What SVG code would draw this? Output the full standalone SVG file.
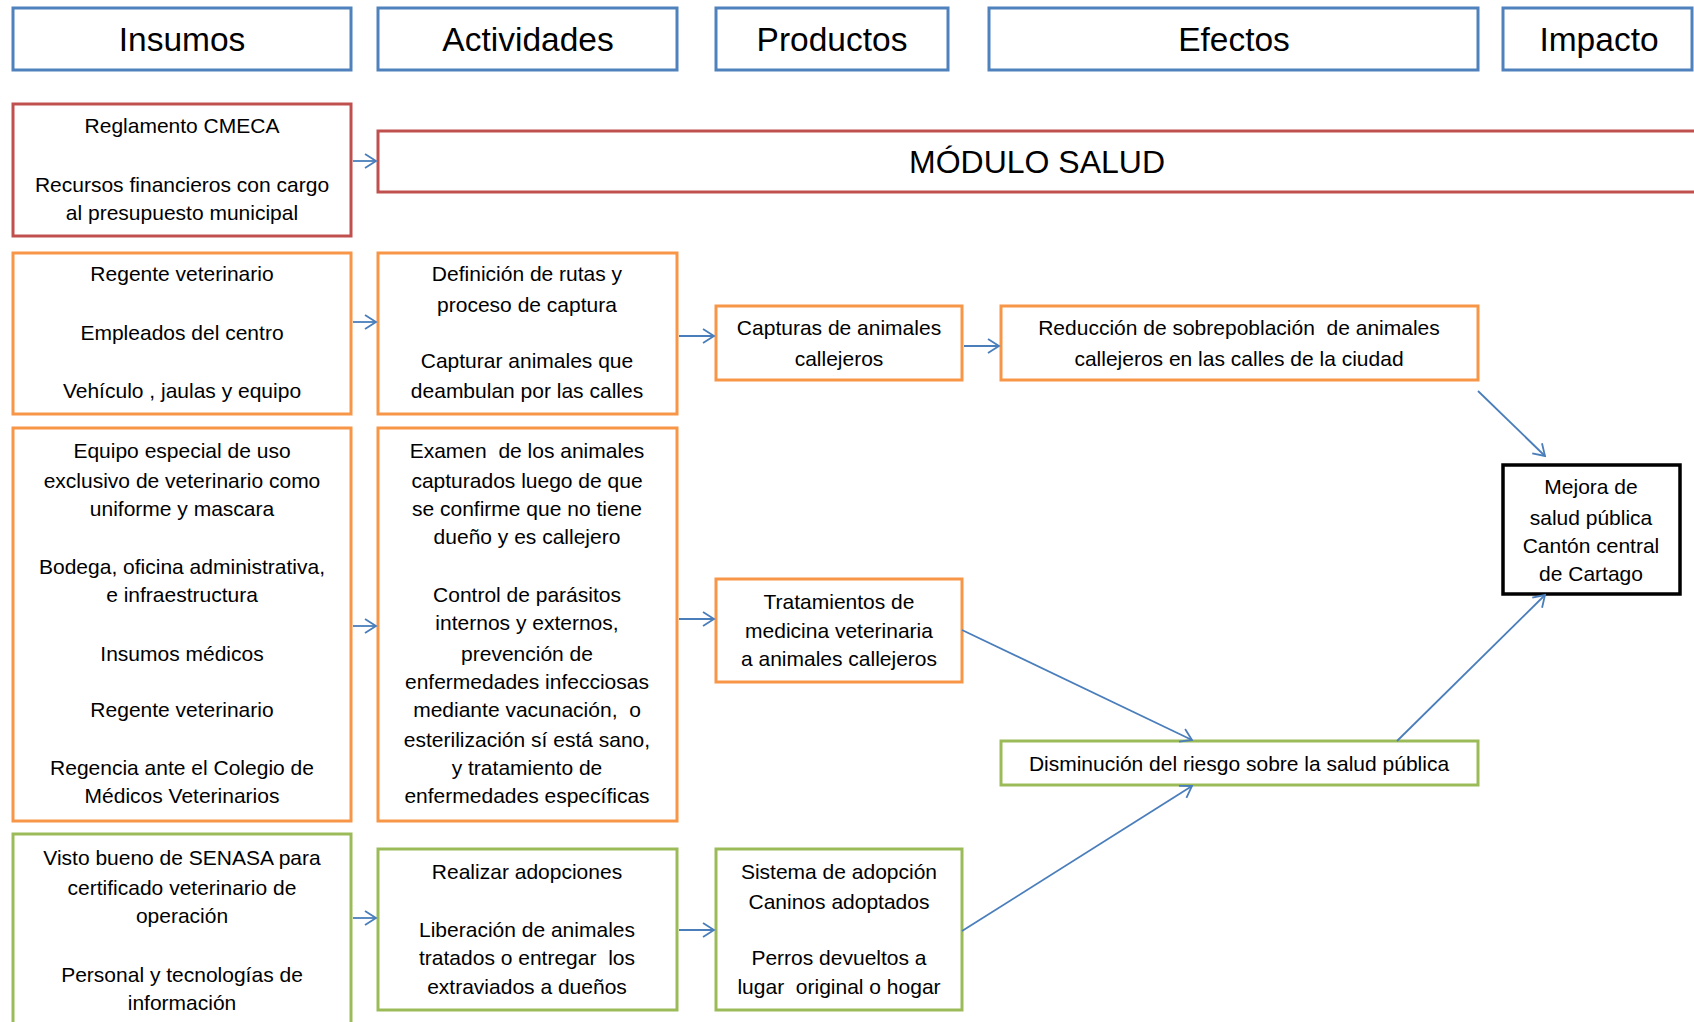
<svg xmlns="http://www.w3.org/2000/svg" width="1694" height="1022" viewBox="0 0 1694 1022">
<defs>
<style>
.box{fill:#fff;stroke-width:3}
.hd{stroke:#4f81bd}
.rd{stroke:#c0504d}
.or{stroke:#f79646}
.gr{stroke:#9bbb59}
.bk{stroke:#000;stroke-width:3.5}
text{font-family:"Liberation Sans",Arial,sans-serif;fill:#000;text-anchor:middle;white-space:pre}
.h{font-size:33.5px}
.t{font-size:21px}
.m{font-size:32px}
.c{stroke:#4a7ebb;stroke-width:1.8;fill:none;marker-end:url(#ar)}
</style>
<marker id="ar" markerUnits="userSpaceOnUse" markerWidth="14" markerHeight="16" refX="12" refY="8" orient="auto" viewBox="0 0 14 16">
<path d="M1,1 L12,8 L1,15" fill="none" stroke="#4a7ebb" stroke-width="1.8"/>
</marker>
</defs>

<g id="h-insumos"><rect class="box hd" x="13" y="8" width="338" height="62"/><text class="h" x="182" y="51">Insumos</text></g>
<g id="h-actividades"><rect class="box hd" x="378" y="8" width="299" height="62"/><text class="h" x="528" y="51">Actividades</text></g>
<g id="h-productos"><rect class="box hd" x="716" y="8" width="232" height="62"/><text class="h" x="832" y="51">Productos</text></g>
<g id="h-efectos"><rect class="box hd" x="989" y="8" width="489" height="62"/><text class="h" x="1234" y="51">Efectos</text></g>
<g id="h-impacto"><rect class="box hd" x="1503" y="8" width="189" height="62"/><text class="h" x="1599" y="51">Impacto</text></g>

<g id="n-reglamento"><rect class="box rd" x="13" y="104" width="338" height="132"/>
<text class="t" x="182" y="133">Reglamento CMECA</text>
<text class="t" x="182" y="192">Recursos financieros con cargo</text>
<text class="t" x="182" y="220">al presupuesto municipal</text></g>
<g id="n-modulo"><rect class="box rd" x="378" y="131" width="1318" height="61"/><text class="m" x="1037" y="173">MÓDULO SALUD</text></g>

<g id="n-ins1"><rect class="box or" x="13" y="253" width="338" height="161"/>
<text class="t" x="182" y="281">Regente veterinario</text>
<text class="t" x="182" y="340">Empleados del centro</text>
<text class="t" x="182" y="398">Vehículo , jaulas y equipo</text></g>
<g id="n-act1"><rect class="box or" x="378" y="253" width="299" height="161"/>
<text class="t" x="527" y="281">Definición de rutas y</text>
<text class="t" x="527" y="312">proceso de captura</text>
<text class="t" x="527" y="368">Capturar animales que</text>
<text class="t" x="527" y="398">deambulan por las calles</text></g>
<g id="n-capturas"><rect class="box or" x="716" y="306" width="246" height="74"/>
<text class="t" x="839" y="335">Capturas de animales</text>
<text class="t" x="839" y="366">callejeros</text></g>
<g id="n-reduccion"><rect class="box or" x="1001" y="306" width="477" height="74"/>
<text class="t" x="1239" y="335" xml:space="preserve">Reducción de sobrepoblación  de animales</text>
<text class="t" x="1239" y="366">callejeros en las calles de la ciudad</text></g>

<g id="n-ins2"><rect class="box or" x="13" y="428" width="338" height="393"/>
<text class="t" x="182" y="458">Equipo especial de uso</text>
<text class="t" x="182" y="488">exclusivo de veterinario como</text>
<text class="t" x="182" y="516">uniforme y mascara</text>
<text class="t" x="182" y="574">Bodega, oficina administrativa,</text>
<text class="t" x="182" y="602">e infraestructura</text>
<text class="t" x="182" y="661">Insumos médicos</text>
<text class="t" x="182" y="717">Regente veterinario</text>
<text class="t" x="182" y="775">Regencia ante el Colegio de</text>
<text class="t" x="182" y="803">Médicos Veterinarios</text></g>
<g id="n-act2"><rect class="box or" x="378" y="428" width="299" height="393"/>
<text class="t" x="527" y="458" xml:space="preserve">Examen  de los animales</text>
<text class="t" x="527" y="488">capturados luego de que</text>
<text class="t" x="527" y="516">se confirme que no tiene</text>
<text class="t" x="527" y="544">dueño y es callejero</text>
<text class="t" x="527" y="602">Control de parásitos</text>
<text class="t" x="527" y="630">internos y externos,</text>
<text class="t" x="527" y="661">prevención de</text>
<text class="t" x="527" y="689">enfermedades infecciosas</text>
<text class="t" x="527" y="717" xml:space="preserve">mediante vacunación,  o</text>
<text class="t" x="527" y="747">esterilización sí está sano,</text>
<text class="t" x="527" y="775">y tratamiento de</text>
<text class="t" x="527" y="803">enfermedades específicas</text></g>
<g id="n-tratamientos"><rect class="box or" x="716" y="579" width="246" height="103"/>
<text class="t" x="839" y="609">Tratamientos de</text>
<text class="t" x="839" y="638">medicina veterinaria</text>
<text class="t" x="839" y="666">a animales callejeros</text></g>

<g id="n-impacto"><rect class="box bk" x="1503" y="465" width="177" height="129"/>
<text class="t" x="1591" y="494">Mejora de</text>
<text class="t" x="1591" y="525">salud pública</text>
<text class="t" x="1591" y="553">Cantón central</text>
<text class="t" x="1591" y="581">de Cartago</text></g>
<g id="n-disminucion"><rect class="box gr" x="1001" y="741" width="477" height="44"/>
<text class="t" x="1239" y="771">Disminución del riesgo sobre la salud pública</text></g>

<g id="n-ins3"><rect class="box gr" x="13" y="834" width="338" height="200"/>
<text class="t" x="182" y="865">Visto bueno de SENASA para</text>
<text class="t" x="182" y="895">certificado veterinario de</text>
<text class="t" x="182" y="923">operación</text>
<text class="t" x="182" y="982">Personal y tecnologías de</text>
<text class="t" x="182" y="1010">información</text></g>
<g id="n-act3"><rect class="box gr" x="378" y="849" width="299" height="161"/>
<text class="t" x="527" y="879">Realizar adopciones</text>
<text class="t" x="527" y="937">Liberación de animales</text>
<text class="t" x="527" y="965" xml:space="preserve">tratados o entregar  los</text>
<text class="t" x="527" y="994">extraviados a dueños</text></g>
<g id="n-sistema"><rect class="box gr" x="716" y="849" width="246" height="161"/>
<text class="t" x="839" y="879">Sistema de adopción</text>
<text class="t" x="839" y="909">Caninos adoptados</text>
<text class="t" x="839" y="965">Perros devueltos a</text>
<text class="t" x="839" y="994" xml:space="preserve">lugar  original o hogar</text></g>

<g id="connectors">
<line class="c" x1="353" y1="161" x2="376" y2="161"/>
<line class="c" x1="353" y1="322" x2="376" y2="322"/>
<line class="c" x1="679" y1="336" x2="714" y2="336"/>
<line class="c" x1="964" y1="346" x2="999" y2="346"/>
<line class="c" x1="353" y1="626" x2="376" y2="626"/>
<line class="c" x1="679" y1="619" x2="714" y2="619"/>
<line class="c" x1="353" y1="918" x2="376" y2="918"/>
<line class="c" x1="679" y1="930" x2="714" y2="930"/>
<line class="c" x1="1478" y1="391" x2="1545" y2="456"/>
<line class="c" x1="962" y1="630" x2="1192" y2="740"/>
<line class="c" x1="962" y1="931" x2="1192" y2="786"/>
<line class="c" x1="1397" y1="741" x2="1545" y2="595"/>
</g>
</svg>
